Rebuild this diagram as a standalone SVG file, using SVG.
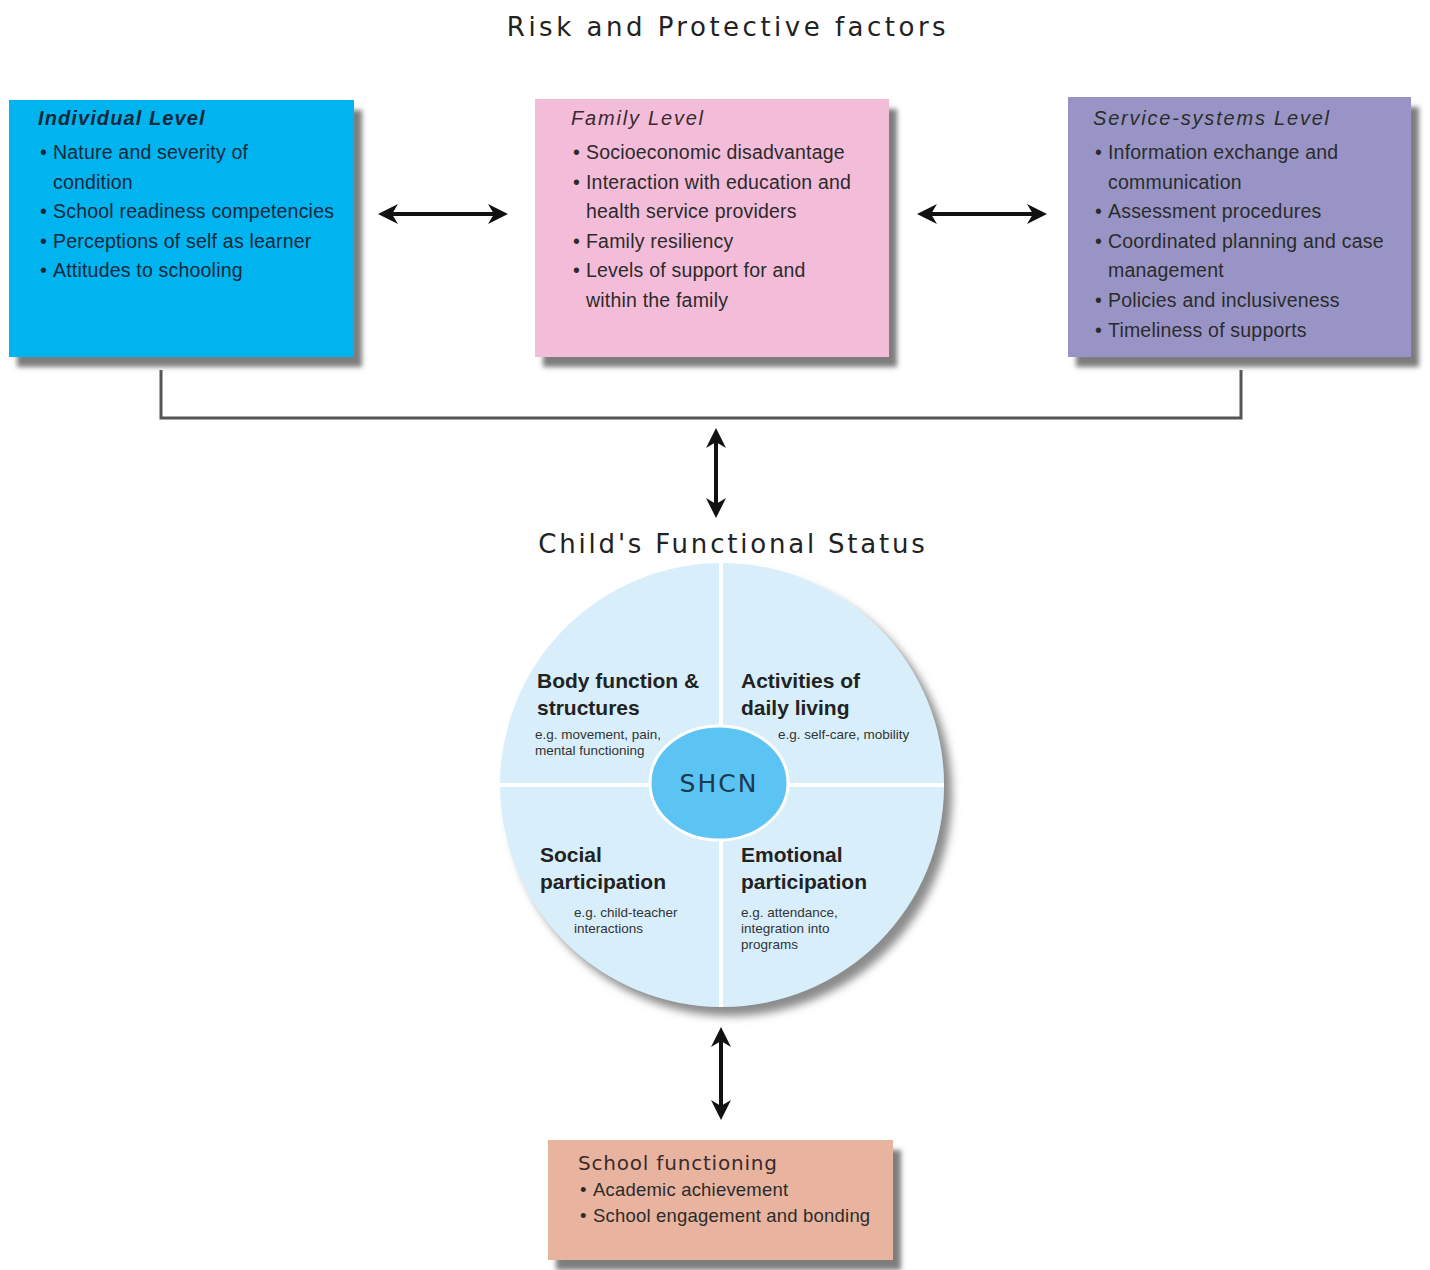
<svg xmlns="http://www.w3.org/2000/svg" width="1430" height="1270" viewBox="0 0 1430 1270">
<defs>
<filter id="sh" x="-10%" y="-10%" width="130%" height="130%">
<feDropShadow dx="8" dy="10" stdDeviation="2.5" flood-color="#666" flood-opacity="0.85"/>
</filter>
<filter id="shc" x="-10%" y="-10%" width="130%" height="130%">
<feDropShadow dx="8" dy="9" stdDeviation="4" flood-color="#777" flood-opacity="0.85"/>
</filter>
<marker id="ah" viewBox="0 0 10 10" refX="8" refY="5" markerWidth="5" markerHeight="6" orient="auto-start-reverse" markerUnits="strokeWidth">
<path d="M0,0 L10,5 L0,10 L3,5 Z" fill="#111"/>
</marker>
<style>
.t{font-family:"Liberation Sans",Arial,sans-serif;font-size:19.5px;letter-spacing:0.2px;fill:#2b2b2b}
.h{font-style:italic;font-size:20px;letter-spacing:1.8px}
.ttl{font-family:"DejaVu Sans",sans-serif;font-size:26px;fill:#222}
.q{font-family:"Liberation Sans",Arial,sans-serif;font-size:21px;font-weight:bold;fill:#222}
.s{font-family:"Liberation Sans",Arial,sans-serif;font-size:13.5px;fill:#333}
.conn{stroke:#111;stroke-width:4;fill:none}
</style>
</defs>
<text class="ttl" x="728" y="36" text-anchor="middle" style="letter-spacing:3.5px">Risk and Protective factors</text>
<text class="ttl" x="733" y="553" text-anchor="middle" style="letter-spacing:2.8px">Child's Functional Status</text>

<g id="individual">
<rect x="9" y="100" width="345" height="257" fill="#00b4f0" filter="url(#sh)"/>
<text class="t h" x="38" y="125" style="font-weight:bold;letter-spacing:1.1px;fill:#10283a">Individual Level</text>
<text class="t" x="40" y="159" style="fill:#10283a">•</text><text class="t" x="53" y="159" style="fill:#10283a">Nature and severity of</text>
<text class="t" x="53" y="189" style="fill:#10283a">condition</text>
<text class="t" x="40" y="218" style="fill:#10283a">•</text><text class="t" x="53" y="218" style="fill:#10283a">School readiness competencies</text>
<text class="t" x="40" y="248" style="fill:#10283a">•</text><text class="t" x="53" y="248" style="fill:#10283a">Perceptions of self as learner</text>
<text class="t" x="40" y="277" style="fill:#10283a">•</text><text class="t" x="53" y="277" style="fill:#10283a">Attitudes to schooling</text>
</g>

<g id="family">
<rect x="535" y="99" width="354" height="258" fill="#f3bcd8" filter="url(#sh)"/>
<text class="t h" x="571" y="125" style="fill:#3a2a30">Family Level</text>
<text class="t" x="573" y="159">•</text><text class="t" x="586" y="159">Socioeconomic disadvantage</text>
<text class="t" x="573" y="189">•</text><text class="t" x="586" y="189">Interaction with education and</text>
<text class="t" x="586" y="218">health service providers</text>
<text class="t" x="573" y="248">•</text><text class="t" x="586" y="248">Family resiliency</text>
<text class="t" x="573" y="277">•</text><text class="t" x="586" y="277">Levels of support for and</text>
<text class="t" x="586" y="307">within the family</text>
</g>

<g id="service">
<rect x="1068" y="97" width="343" height="260" fill="#9895c6" filter="url(#sh)"/>
<text class="t h" x="1093" y="125">Service-systems Level</text>
<text class="t" x="1095" y="159">•</text><text class="t" x="1108" y="159">Information exchange and</text>
<text class="t" x="1108" y="189">communication</text>
<text class="t" x="1095" y="218">•</text><text class="t" x="1108" y="218">Assessment procedures</text>
<text class="t" x="1095" y="248">•</text><text class="t" x="1108" y="248">Coordinated planning and case</text>
<text class="t" x="1108" y="277">management</text>
<text class="t" x="1095" y="307">•</text><text class="t" x="1108" y="307">Policies and inclusiveness</text>
<text class="t" x="1095" y="337">•</text><text class="t" x="1108" y="337">Timeliness of supports</text>
</g>

<g id="status">
<circle cx="722" cy="785" r="222" fill="#d8effb" filter="url(#shc)"/>
<line x1="721" y1="563" x2="721" y2="1007" stroke="#fff" stroke-width="4"/>
<line x1="500" y1="785" x2="944" y2="785" stroke="#fff" stroke-width="4"/>
<ellipse cx="719" cy="783" rx="69" ry="57" fill="#5bc4f2" stroke="#fff" stroke-width="3"/>
<text x="719" y="792" text-anchor="middle" style="font-family:'DejaVu Sans',sans-serif;font-size:25px;fill:#1a3a50;letter-spacing:2px">SHCN</text>
<text class="q" x="537" y="688">Body function &amp;</text>
<text class="q" x="537" y="715">structures</text>
<text class="s" x="535" y="739">e.g. movement, pain,</text>
<text class="s" x="535" y="755">mental functioning</text>
<text class="q" x="741" y="688">Activities of</text>
<text class="q" x="741" y="715">daily living</text>
<text class="s" x="778" y="739">e.g. self-care, mobility</text>
<text class="q" x="540" y="862">Social</text>
<text class="q" x="540" y="889">participation</text>
<text class="s" x="574" y="917">e.g. child-teacher</text>
<text class="s" x="574" y="933">interactions</text>
<text class="q" x="741" y="862">Emotional</text>
<text class="q" x="741" y="889">participation</text>
<text class="s" x="741" y="917">e.g. attendance,</text>
<text class="s" x="741" y="933">integration into</text>
<text class="s" x="741" y="949">programs</text>
</g>

<g id="school">
<rect x="548" y="1140" width="345" height="120" fill="#e8b4a0" filter="url(#sh)"/>
<text x="578" y="1170" style="font-family:'DejaVu Sans',sans-serif;font-size:20px;letter-spacing:0.8px;fill:#3a2a2a">School functioning</text>
<text class="t" x="580" y="1196" style="font-size:18.5px">•</text><text class="t" x="593" y="1196" style="font-size:18.5px">Academic achievement</text>
<text class="t" x="580" y="1222" style="font-size:18.5px">•</text><text class="t" x="593" y="1222" style="font-size:18.5px">School engagement and bonding</text>
</g>

<g id="connectors">
<polyline points="161,370 161,418 1241,418 1241,370" fill="none" stroke="#555" stroke-width="3"/>
<line class="conn" x1="382" y1="214" x2="504" y2="214" marker-start="url(#ah)" marker-end="url(#ah)"/>
<line class="conn" x1="921" y1="214" x2="1043" y2="214" marker-start="url(#ah)" marker-end="url(#ah)"/>
<line class="conn" x1="716" y1="432" x2="716" y2="514" marker-start="url(#ah)" marker-end="url(#ah)"/>
<line class="conn" x1="721" y1="1031" x2="721" y2="1116" marker-start="url(#ah)" marker-end="url(#ah)"/>
</g>
</svg>
